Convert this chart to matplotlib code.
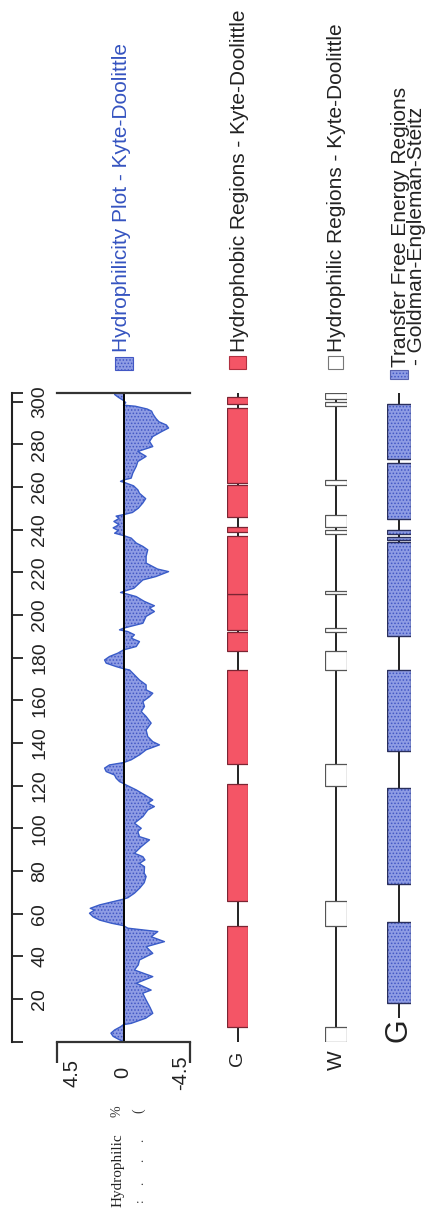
import matplotlib
matplotlib.use("Agg")
import matplotlib.pyplot as plt
from matplotlib.patches import Rectangle

plt.rcParams['font.family'] = 'Liberation Sans'
plt.rcParams['hatch.linewidth'] = 0.7

W_PX, H_PX = 430, 1217
SEQ_LEN = 304

# hydrophilicity profile (Kyte-Doolittle, hydrophilic side positive)
residue = [0, 1, 2.5, 4, 5.5, 7, 8,
           8.6, 11, 13.3, 16, 19.5, 22.7, 24.2, 27.4, 30.5, 33.6, 36, 38.3, 41.4, 44.5, 46.9, 49.2, 51.6, 53.2, 54.4,
           55.5, 57, 58.6, 60.2, 61.7, 62.5, 64.1, 65.6, 66.8,
           67.5, 69.6, 72, 74.5, 77.4, 79, 82, 83.6, 85.2, 86.7, 88.3, 91.4, 94.6, 96.1, 98.5, 100, 102.4, 105.5,
           108.6, 110.2, 111.8, 113.3, 115.7, 118, 120.3, 121,
           121.9, 123.5, 125, 126.6, 128.2, 129.7, 130.8,
           132.1, 134.5, 136.8, 139.1, 140.6, 143, 146.1, 149.3, 152.4, 154.7, 157.1, 159.4, 161.7, 163.3, 164.9,
           167.2, 169.5, 172.7, 174.2, 174.8,
           175.8, 177.4, 178.9, 180.5, 182.1, 183.6,
           185.2, 187.5, 189.1, 190.7, 192.2, 193, 193.8,
           196.1, 199.3, 201.6, 203.2, 204.3, 206.3, 208.6, 209.9, 210.5, 211,
           212.5, 214.9, 216.4, 218, 220.3, 221.5, 224.3, 227.4, 230.5, 232.1, 233.7, 236, 237.2,
           238.3, 239.5, 240.8, 242.3, 243.8, 245.2, 246.3, 247,
           248, 250, 252.4, 254.5, 257, 258.6, 260.5, 262, 262.6, 263.2,
           264.1, 266.5, 269.6, 271.9, 274.3, 276.6, 278.9, 281.3, 283.6, 286, 287.6, 289, 290.5, 292, 294, 295.5,
           296.5, 297.8, 298.3,
           299.5, 300.5, 302, 303.3, 304]
hydrophilicity = [0, 0.3, 0.7, 0.85, 0.6, 0.2, 0,
                  -0.52, -1.5, -1.98, -1.8, -1.53, -1.3, -1.87, -0.86, -1.98, -0.74, -1.0, -1.08, -1.98, -1.53, -2.77,
                  -1.87, -2.32, -0.29, 0,
                  0.8, 1.62, 2.07, 2.3, 1.96, 2.25, 1.62, 0.72, 0,
                  -0.3, -0.74, -1.1, -1.4, -1.53, -1.4, -1.42, -1.08, -1.45, -1.31, -0.74, -1.2, -1.76, -1.08, -0.97,
                  -1.2, -0.74, -1.31, -1.64, -2.09, -1.64, -1.98, -1.42, -0.86, -0.18, 0,
                  0.27, 0.5, 0.61, 1.17, 1.28, 0.95, 0,
                  -0.52, -1.1, -1.53, -2.43, -1.98, -1.64, -1.53, -1.87, -1.53, -1.2, -1.42, -1.31, -1.76, -1.98,
                  -1.53, -1.53, -1.08, -0.63, -0.41, 0,
                  0.5, 1.17, 1.28, 0.95, 0.38, 0,
                  -0.86, -1.08, -0.52, -0.74, -0.29, 0.27, 0,
                  -1.31, -1.53, -2.09, -1.76, -2.09, -1.42, -0.86, -0.18, 0.2, 0,
                  -0.7, -1.08, -1.31, -2.2, -3.05, -2.3, -1.53, -1.53, -1.64, -1.31, -0.86, -0.52, 0,
                  0.6, 0.35, 0.7, 0.3, 0.65, 0.3, 0.5, 0,
                  -0.6, -1.0, -1.3, -1.5, -1.08, -0.97, -0.68, -0.1, 0.2, 0,
                  -0.52, -0.63, -0.86, -0.97, -1.53, -0.97, -1.98, -1.76, -1.98, -2.6, -3.05, -2.9, -2.4, -2.2,
                  -2.0, -1.9, -1.6, -0.8, 0,
                  -0.15, 0, 0.35, 0.6, 0.55]

# predicted regions as (start, end) residues
hydrophobic_regions = [(7, 54), (66, 121), (130, 174), (183, 192), (193, 210), (210, 237),
                       (239, 241), (246, 261), (262, 297), (299, 302)]
hydrophilic_regions = [(0, 7), (54, 66), (120, 130), (174, 183), (192, 194), (210, 211),
                       (238, 240), (241, 247), (261, 263), (298, 300), (301, 304)]
ges_regions = [(18, 56), (74, 119), (136, 174), (190, 234), (235, 236.5), (238, 240),
               (245, 271), (273, 299)]

residue_ticks = list(range(0, 301, 20))
scale_ticks = [4.5, 0, -4.5]

BLUE_TXT = '#3553c0'
BLUE_FILL = '#8e9ce4'
BLUE_DOT = '#4257c4'
RED_FILL = '#f45566'

TOP, BOTTOM = 393, 1041.7


def px_box(x0, y0, x1, y1):
    return [x0 / W_PX, 1 - y1 / H_PX, (x1 - x0) / W_PX, (y1 - y0) / H_PX]


def fxy(x, y):
    return x / W_PX, 1 - y / H_PX


fig = plt.figure(figsize=(W_PX / 100, H_PX / 100), dpi=100)

# residue position axis
ax_res = fig.add_axes(px_box(2, TOP, 12, BOTTOM))
ax_res.set_ylim(0, SEQ_LEN)
ax_res.set_xticks([])
for side in ['left', 'top', 'bottom']:
    ax_res.spines[side].set_visible(False)
ax_res.spines['right'].set_linewidth(1.5)
ax_res.spines['right'].set_color('#222222')
ax_res.yaxis.tick_right()
ax_res.set_yticks(residue_ticks)
ax_res.set_yticklabels([''] + [str(t) for t in residue_ticks[1:]])
ax_res.set_yticks([SEQ_LEN], minor=True)
ax_res.tick_params(axis='y', which='both', direction='out', length=8, width=1.3,
                   color='#222222', pad=6, labelsize=14)
plt.setp(ax_res.get_yticklabels(), rotation=90, va='center', ha='left', color='#222222')

# hydrophilicity plot
ax = fig.add_axes(px_box(57, TOP, 190, BOTTOM))
ax.set_xlim(4.5, -4.5)
ax.set_ylim(0, SEQ_LEN)
ax.fill_betweenx(residue, 0, hydrophilicity, facecolor=BLUE_FILL, edgecolor=BLUE_DOT,
                 hatch='.....', linewidth=0)
ax.plot(hydrophilicity, residue, color='#3a5cc8', lw=1.0)
ax.axvline(0, color='black', lw=1.4)
ax.spines['left'].set_visible(False)
ax.spines['right'].set_visible(False)
for side in ['top', 'bottom']:
    ax.spines[side].set_linewidth(1.6)
    ax.spines[side].set_color('#333333')
ax.set_yticks([])
ax.set_xticks(scale_ticks)
ax.tick_params(axis='x', direction='out', length=15, width=1.6, color='#333333', labelbottom=False)
ax.xaxis.get_major_ticks()[1].tick1line.set_visible(False)
for val, dx in zip(scale_ticks, [15, -1, -9]):
    ax.annotate(f"{val:g}", xy=(val, 0), xycoords=('data', 'axes fraction'),
                xytext=(dx * 0.72, -31 * 0.72), textcoords='offset points',
                rotation=90, ha='center', va='center', fontsize=14.5, color='#222222')


def region_track(x0, x1, regions, face, edge, hatch=None, hatch_color=None):
    axr = fig.add_axes(px_box(x0, TOP, x1, BOTTOM))
    axr.set_xlim(0, 1)
    axr.set_ylim(0, SEQ_LEN)
    axr.axis('off')
    axr.plot([0.5, 0.5], [0, SEQ_LEN], color='#111111', lw=1.3, zorder=1)
    starts = [s for s, e in regions]
    lengths = [e - s for s, e in regions]
    if hatch:
        axr.bar(0.5, lengths, bottom=starts, width=1.0, facecolor=face,
                edgecolor=hatch_color, hatch=hatch, linewidth=0, zorder=2)
        axr.bar(0.5, lengths, bottom=starts, width=1.0, facecolor='none',
                edgecolor=edge, linewidth=1.0, zorder=3)
    else:
        axr.bar(0.5, lengths, bottom=starts, width=1.0, facecolor=face,
                edgecolor=edge, linewidth=0.9, zorder=2)
    return axr


ax_red = region_track(227, 248, hydrophobic_regions, RED_FILL, '#7a2533')
ax_red.text(0.5, -8, 'G', rotation=90, ha='center', va='center', fontsize=14, color='#222222')

ax_w = region_track(325, 347, hydrophilic_regions, 'white', '#555555')
ax_w.text(0.5, -8.5, 'W', rotation=90, ha='center', va='center', fontsize=15, color='#222222')

ax_g = region_track(387, 411, ges_regions, BLUE_FILL, '#2a2f5c', hatch='.....', hatch_color=BLUE_DOT)
ax_g.text(0.5, 5.5, 'G', rotation=90, ha='center', va='center', fontsize=22, color='#222222',
          bbox=dict(facecolor='white', edgecolor='none', pad=0), zorder=5)


def legend_entry(x0, x1, y0, y1, text_x, text_y, label, face, edge, hatch=None,
                 hatch_color=None, color='#222222'):
    xy = fxy(x0, y1)
    w, h = (x1 - x0) / W_PX, (y1 - y0) / H_PX
    if hatch:
        fig.add_artist(Rectangle(xy, w, h, transform=fig.transFigure, facecolor=face,
                                 edgecolor=hatch_color, hatch=hatch, linewidth=0))
        fig.add_artist(Rectangle(xy, w, h, transform=fig.transFigure, facecolor='none',
                                 edgecolor=edge, linewidth=0.8))
    else:
        fig.add_artist(Rectangle(xy, w, h, transform=fig.transFigure, facecolor=face,
                                 edgecolor=edge, linewidth=0.8))
    fig.text(*fxy(text_x, text_y), label, rotation=90, ha='center', va='bottom',
             fontsize=15, color=color)


legend_entry(115, 133, 357, 370, 122, 352, 'Hydrophilicity Plot - Kyte-Doolittle',
             BLUE_FILL, BLUE_DOT, hatch='.....', hatch_color=BLUE_DOT, color=BLUE_TXT)
legend_entry(229, 246, 356, 369, 239, 352, 'Hydrophobic Regions - Kyte-Doolittle',
             RED_FILL, '#b03040')
legend_entry(328, 343, 356, 369, 337, 352, 'Hydrophilic Regions - Kyte-Doolittle',
             'white', '#777777')
legend_entry(390, 408, 370, 379, 400, 367, 'Transfer Free Energy Regions',
             BLUE_FILL, '#5a64b0', hatch='.....', hatch_color=BLUE_DOT)
fig.text(*fxy(417, 365), '- Goldman-Engleman-Steitz', rotation=90, ha='center', va='bottom',
         fontsize=15, color='#222222')

# stray key text at the lower left
fig.text(*fxy(118, 1207), 'Hydrophilic', rotation=90, ha='center', va='bottom',
         fontsize=11, family='Liberation Serif', color='#222222')
fig.text(*fxy(117, 1111), '%', rotation=90, ha='center', va='center',
         fontsize=10, family='Liberation Serif', color='#333333')
fig.text(*fxy(139, 1111), '(', rotation=90, ha='center', va='center',
         fontsize=10, family='Liberation Serif', color='#333333')
for yy in [1140, 1160, 1183]:
    fig.text(*fxy(140, yy), '.', rotation=90, ha='center', va='center',
             fontsize=9, family='Liberation Serif', color='#333333')
fig.text(*fxy(140, 1200), ':', rotation=90, ha='center', va='center',
         fontsize=9, family='Liberation Serif', color='#333333')

fig.savefig('out.png', dpi=100, facecolor='white')
